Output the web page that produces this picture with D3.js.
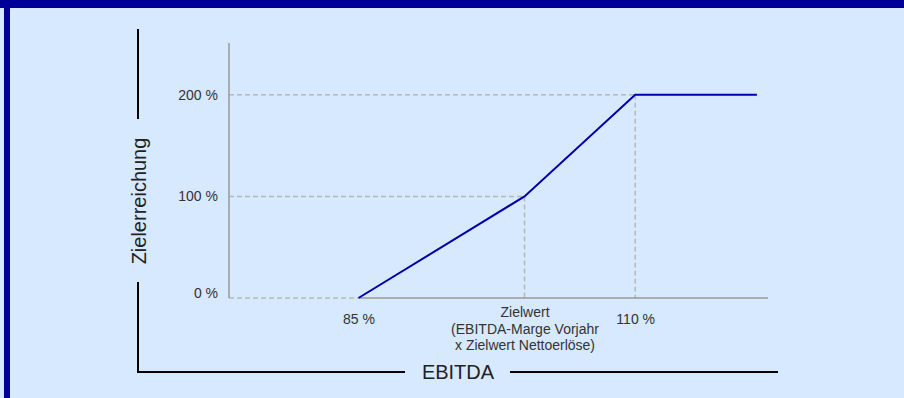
<!DOCTYPE html>
<html>
<head>
<meta charset="utf-8">
<script src="https://cdn.jsdelivr.net/npm/d3@7"></script>
<style>
  body { margin: 0; background: #d6e9fe; }
  svg { display: block; font-family: "Liberation Sans", Arial, sans-serif; }
</style>
</head>
<body>
<svg id="chart" width="904" height="398"></svg>
<script>
// data
const ebitdaPct = [85, 100, 110, 121];      // x: EBITDA relative to Zielwert (Zielwert = 100)
const zielerreichung = [0, 100, 200, 200];  // y: achievement in %
const yTicks = [0, 100, 200];
const yTickLabels = ["0 %", "100 %", "200 %"];
const xTicks = [85, 100, 110];
const xTickLabels = [["85 %"], ["Zielwert", "(EBITDA-Marge Vorjahr", "x Zielwert Nettoerlöse)"], ["110 %"]];

const svg = d3.select("#chart");
const W = 904, H = 398;

// background + frame
svg.append("rect").attr("width", W).attr("height", H).attr("fill", "#d6e9fe");
svg.append("rect").attr("x", 0).attr("y", 0).attr("width", W).attr("height", 8).attr("fill", "#000099");
svg.append("rect").attr("x", 4).attr("y", 0).attr("width", 6).attr("height", H).attr("fill", "#000099");

const x = d3.scaleLinear().domain([73.3, 122]).range([229, 768]);
const y = d3.scaleLinear().domain([0, 251]).range([298, 43]);

const g = svg.append("g");

// dashed helper lines
const points = ebitdaPct.map((v, i) => [v, zielerreichung[i]]).slice(0, 3);
points.forEach(p => {
  g.append("line")
    .attr("x1", x.range()[0]).attr("x2", x(p[0]))
    .attr("y1", y(p[1])).attr("y2", y(p[1]))
    .attr("stroke", "#b8b8b8").attr("stroke-width", 1.5)
    .attr("stroke-dasharray", "5,3");
  if (p[1] > 0) {
    g.append("line")
      .attr("x1", x(p[0])).attr("x2", x(p[0]))
      .attr("y1", y(p[1])).attr("y2", y(0))
      .attr("stroke", "#b8b8b8").attr("stroke-width", 1.5)
      .attr("stroke-dasharray", "5,3");
  }
});

// axes lines
g.append("line")
  .attr("x1", x.range()[0]).attr("x2", x.range()[0])
  .attr("y1", y.range()[1]).attr("y2", y(0))
  .attr("stroke", "#999").attr("stroke-width", 1.5);
g.append("line")
  .attr("x1", x(xTicks[0])).attr("x2", x.range()[1])
  .attr("y1", y(0)).attr("y2", y(0))
  .attr("stroke", "#999").attr("stroke-width", 1.5);

// y tick labels
const yAxis = d3.axisLeft(y).tickValues(yTicks).tickSize(0).tickPadding(11)
  .tickFormat((d, i) => yTickLabels[i]);
const yG = svg.append("g").attr("transform", `translate(${x.range()[0]},0)`).call(yAxis);
yG.select(".domain").remove();
yG.selectAll("text")
  .attr("font-size", 14).attr("fill", "#333").attr("font-family", "Liberation Sans, Arial, sans-serif")
  .attr("dy", d => d === 0 ? "-0.05em" : "0.32em");

// x tick labels
const xAxis = d3.axisBottom(x).tickValues(xTicks).tickSize(0).tickFormat("");
const xG = svg.append("g").attr("transform", `translate(0,${y(0)})`).call(xAxis);
xG.select(".domain").remove();
xG.selectAll(".tick text").remove();
xG.selectAll(".tick").each(function (d, i) {
  const lines = xTickLabels[i];
  const t = d3.select(this).append("text")
    .attr("text-anchor", "middle")
    .attr("font-size", 14).attr("fill", "#333")
    .attr("font-family", "Liberation Sans, Arial, sans-serif");
  lines.forEach((s, j) => {
    t.append("tspan").attr("x", 0)
      .attr("y", (lines.length > 1 ? 19 : 26) + j * 16.5)
      .text(s);
  });
});

// data line
const line = d3.line().x(d => x(d[0])).y(d => y(d[1]));
g.append("path")
  .datum(ebitdaPct.map((v, i) => [v, zielerreichung[i]]))
  .attr("d", line)
  .attr("fill", "none")
  .attr("stroke", "#0000a8")
  .attr("stroke-width", 2);

// outer axis frame with titles
const frame = svg.append("g").attr("stroke", "#000").attr("stroke-width", 2);
frame.append("line").attr("x1", 138).attr("x2", 138).attr("y1", 29).attr("y2", 119);
frame.append("line").attr("x1", 138).attr("x2", 138).attr("y1", 282).attr("y2", 373);
frame.append("line").attr("x1", 137).attr("x2", 405).attr("y1", 372).attr("y2", 372);
frame.append("line").attr("x1", 510).attr("x2", 778).attr("y1", 372).attr("y2", 372);

svg.append("text")
  .attr("transform", "translate(146,201) rotate(-90)")
  .attr("text-anchor", "middle")
  .attr("font-size", 20).attr("fill", "#222")
  .text("Zielerreichung");

svg.append("text")
  .attr("x", 458).attr("y", 379)
  .attr("text-anchor", "middle")
  .attr("font-size", 20).attr("fill", "#222")
  .text("EBITDA");
</script>
</body>
</html>
